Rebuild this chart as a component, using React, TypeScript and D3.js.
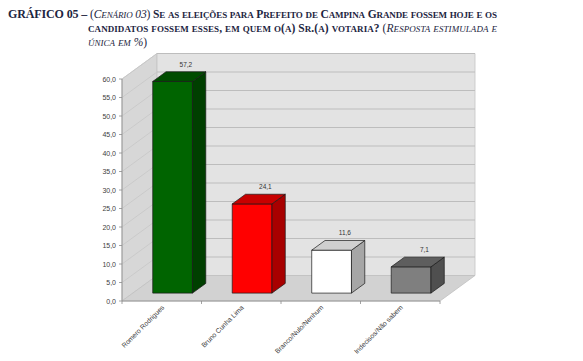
import React from "react";
import * as d3 from "d3";

const categories = ["Romero Rodrigues", "Bruno Cunha Lima", "Branco/Nulo/Nenhum", "Indecisos/Não sabem"];
const values = [57.2, 24.1, 11.6, 7.1];
const valueLabels = ["57,2", "24,1", "11,6", "7,1"];
const yTicks = [0, 5, 10, 15, 20, 25, 30, 35, 40, 45, 50, 55, 60];
const frontColors = ["#006400", "#ff0000", "#ffffff", "#7f7f7f"];
const sideColors = ["#003f00", "#a80000", "#a6a6a6", "#4f4f4f"];
const topColors = ["#004c00", "#c80000", "#cfcfcf", "#5e5e5e"];

const W = 583, H = 361;
const X0 = 122, X1 = 440, Y0 = 301, Y1 = 79;
const DX = 35, DY = -25.5;
const F0 = 0.31, F1 = 0.69;
const FS = 11.5;
const SMALL = 9;

// manual small caps: split into runs of upper / lower
function sc(text: string, extra: any, key: string) {
  const runs: { s: string; lower: boolean }[] = [];
  for (const ch of text) {
    const lower = ch !== ch.toUpperCase();
    const last = runs[runs.length - 1];
    if (last && last.lower === lower) last.s += ch;
    else runs.push({ s: ch, lower });
  }
  return runs.map((r, i) => (
    <tspan key={key + i} {...extra} fontSize={r.lower ? SMALL : FS}>
      {r.lower ? r.s.toUpperCase() : r.s}
    </tspan>
  ));
}

export default function App() {
  const x = d3.scaleBand<string>().domain(categories).range([X0, X1]).paddingInner(0).paddingOuter(0);
  const y = d3.scaleLinear().domain([0, 60]).range([Y0, Y1]);
  const bw = x.bandwidth();
  const pts = (a: number[][]) => a.map((p) => p.join(",")).join(" ");
  const titleColor = "#1c2541";
  const serif = "'Liberation Serif', 'Times New Roman', serif";
  const B = { fontWeight: "bold" };
  const I = { fontStyle: "italic" };

  return (
    <svg width={W} height={H} style={{ position: "absolute", left: 0, top: 0, background: "#fff" }}>
      {/* Title */}
      <text x={8} y={17.5} fontFamily={serif} fontSize={FS} fill={titleColor} textLength={489} lengthAdjust="spacing">
        <tspan fontWeight="bold" fontSize={12}>GRÁFICO 05 – </tspan>
        <tspan>(</tspan>
        {sc("Cenário 03", I, "a")}
        <tspan>) </tspan>
        {sc("Se as eleições para Prefeito de Campina Grande fossem hoje e os", B, "b")}
      </text>
      <text x={88} y={31.5} fontFamily={serif} fontSize={FS} fill={titleColor} textLength={409} lengthAdjust="spacing">
        {sc("candidatos fossem esses, em quem o(a) Sr.(a) votaria? ", B, "c")}
        <tspan>(</tspan>
        {sc("Resposta estimulada e", I, "d")}
      </text>
      <text x={88} y={45.5} fontFamily={serif} fontSize={FS} fill={titleColor}>
        {sc("única em", I, "e")}
        <tspan fontStyle="italic"> %</tspan>
        <tspan>)</tspan>
      </text>

      {/* Walls */}
      <polygon points={pts([[X0, Y0], [X0, Y1], [X0 + DX, Y1 + DY], [X0 + DX, Y0 + DY]])} fill="#d7d7d7" stroke="#c4c4c4" strokeWidth={0.8} />
      <polygon points={pts([[X0 + DX, Y1 + DY], [X1 + DX, Y1 + DY], [X1 + DX, Y0 + DY], [X0 + DX, Y0 + DY]])} fill="#e3e3e3" stroke="#c4c4c4" strokeWidth={0.8} />
      {yTicks.filter((t) => t > 0).map((t) => (
        <g key={"g" + t}>
          <line x1={X0} y1={y(t)} x2={X0 + DX} y2={y(t) + DY} stroke="#c6c6c6" strokeWidth={0.8} />
          <line x1={X0 + DX} y1={y(t) + DY} x2={X1 + DX} y2={y(t) + DY} stroke="#bdbdbd" strokeWidth={1} />
        </g>
      ))}
      {/* Floor */}
      <polygon points={pts([[X0, Y0], [X1, Y0], [X1 + DX, Y0 + DY], [X0 + DX, Y0 + DY]])} fill="#d2d2d2" stroke="#c0c0c0" strokeWidth={0.8} />

      {/* Axes */}
      <line x1={X0} y1={Y1} x2={X0} y2={Y0} stroke="#8c8c8c" strokeWidth={0.8} />
      <line x1={X0} y1={Y0} x2={X1} y2={Y0} stroke="#8c8c8c" strokeWidth={0.8} />
      {yTicks.map((t) => (
        <g key={"t" + t}>
          <line x1={X0 - 3} y1={y(t)} x2={X0} y2={y(t)} stroke="#8c8c8c" strokeWidth={0.8} />
          <text x={X0 - 6} y={y(t) + 2.5} textAnchor="end" fontFamily="'Liberation Sans', Arial, sans-serif" fontSize={7} fill="#404040">
            {t.toFixed(1).replace(".", ",")}
          </text>
        </g>
      ))}
      {[...categories.map((c) => x(c) as number), X1].map((v, i) => (
        <line key={"xt" + i} x1={v} y1={Y0} x2={v} y2={Y0 + 3} stroke="#8c8c8c" strokeWidth={0.8} />
      ))}

      {/* Bars */}
      {categories.map((c, i) => {
        const bx = (x(c) as number) + bw * 0.25 + F0 * DX;
        const by0 = Y0 + F0 * DY;
        const h = Y0 - y(values[i]);
        const top = by0 - h;
        const w = bw * 0.5;
        const ddx = (F1 - F0) * DX, ddy = (F1 - F0) * DY;
        return (
          <g key={c} stroke="#1a1a1a" strokeWidth={0.7} strokeLinejoin="round">
            <rect x={bx} y={top} width={w} height={h} fill={frontColors[i]} />
            <polygon points={pts([[bx + w, top], [bx + w + ddx, top + ddy], [bx + w + ddx, by0 + ddy], [bx + w, by0]])} fill={sideColors[i]} />
            <polygon points={pts([[bx, top], [bx + ddx, top + ddy], [bx + w + ddx, top + ddy], [bx + w, top]])} fill={topColors[i]} />
            <text x={bx + w / 2 + ddx} y={top + ddy - 5} textAnchor="middle" stroke="none" fontFamily="'Liberation Sans', Arial, sans-serif" fontSize={6.5} fill="#333">
              {valueLabels[i]}
            </text>
          </g>
        );
      })}

      {/* Category labels */}
      {categories.map((c) => {
        const cx = (x(c) as number) + bw / 2 + 3;
        const cy = Y0 + 7;
        return (
          <text key={"l" + c} x={cx} y={cy} transform={`rotate(-45 ${cx} ${cy})`} textAnchor="end" fontFamily="'Liberation Sans', Arial, sans-serif" fontSize={6.8} fill="#404040">
            {c}
          </text>
        );
      })}
    </svg>
  );
}
